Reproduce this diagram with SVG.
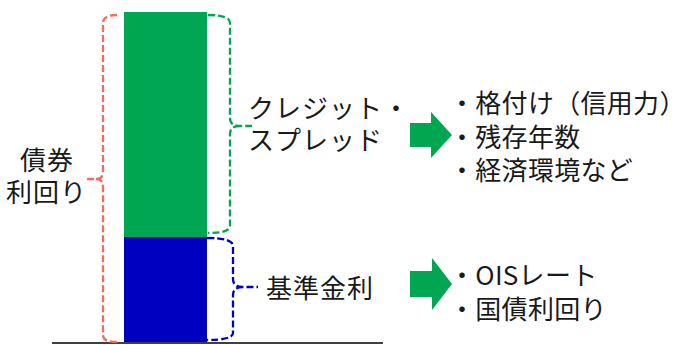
<svg xmlns="http://www.w3.org/2000/svg" width="686" height="345" viewBox="0 0 686 345">
<style>
text{font-family:"Noto Sans CJK JP","Noto Sans",sans-serif;font-size:26px;letter-spacing:1px;fill:#1a1a1a}
.li{letter-spacing:0.3px}
.br{fill:none;stroke-width:2.3;stroke-dasharray:7 3}
.arr{fill:#00A651}
</style>
<rect width="686" height="345" fill="#fff"/>
<g id="bar-spread"><rect x="124" y="12" width="83" height="225" fill="#00A651"/></g>
<g id="bar-base"><rect x="124" y="237" width="83" height="105" fill="#0000C0"/></g>
<g id="baseline"><line x1="52" y1="343" x2="383" y2="343" stroke="#000" stroke-width="1.5"/></g>
<g id="connectors">
<path class="br" stroke="#F26B5B" d="M117,15 Q103,15 103,23 L103,172 Q103,179 96,179 L87,179 M96,179 Q103,179 103,187 L103,335 Q103,342 117,342"/>
<path class="br" stroke="#00A651" d="M208,15 Q230,15 230,23 L230,118 Q230,126 240,126 L252,126 M240,126 Q230,126 230,134 L230,226 Q230,233 208,233"/>
<path class="br" stroke="#0000C0" d="M207,238 Q233,238 233,246 L233,279 Q233,287 243,287 L258,287 M243,287 Q233,287 233,295 L233,333 Q233,340 207,340"/>
<polygon class="arr" points="410,123 431,123 431,112 452,135 431,158 431,147 410,147"/>
<polygon class="arr" points="410,271 432,271 432,258 452,284 432,310 432,297 410,297"/>
</g>
<g id="label-yield"><text x="20" y="170">債券</text><text x="6" y="202">利回り</text></g>
<g id="label-spread"><text x="248" y="118">クレジット・</text><text x="248" y="150">スプレッド</text></g>
<g id="label-base"><text x="266" y="298">基準金利</text></g>
<g id="list-spread"><text class="li" x="449" y="113">・格付け（信用力）</text><text class="li" x="449" y="147">・残存年数</text><text class="li" x="449" y="180">・経済環境など</text></g>
<g id="list-base"><text class="li" x="449" y="285">・OISレート</text><text class="li" x="449" y="319">・国債利回り</text></g>
</svg>
